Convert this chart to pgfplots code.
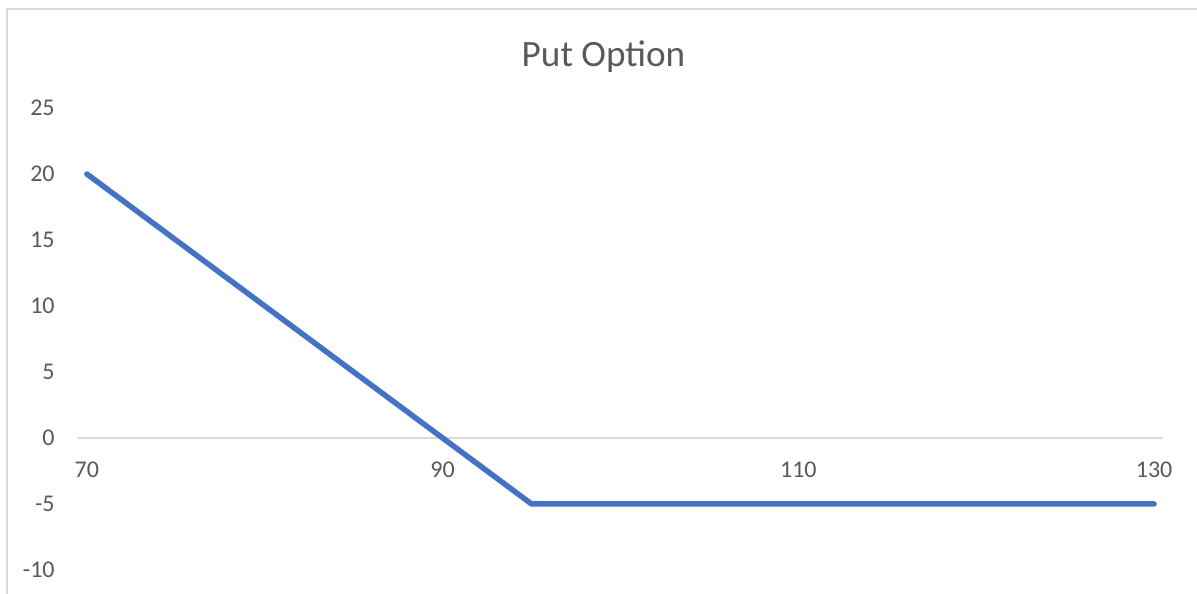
\documentclass[border=0pt]{standalone}
\usepackage{pgfplots}
\pgfplotsset{compat=1.18}
\usepackage{fontspec}
\setmainfont{Carlito}
\definecolor{excelblue}{HTML}{4472C4}
\definecolor{labelgray}{HTML}{595959}
\definecolor{linegray}{HTML}{D9D9D9}

\begin{document}
\begin{tikzpicture}
\path[use as bounding box] (0,0) rectangle (598.5bp,297bp);
% chart frame
\draw[linegray, line width=1.2bp] (3.5bp,-1bp) -- (3.5bp,292.5bp) -- (600bp,292.5bp);
% chart title
\node[anchor=base, inner sep=0pt, text=labelgray, font=\fontsize{18.6bp}{22bp}\selectfont]
  at (301.75bp,263.6bp) {Put Option};
\begin{axis}[
  at={(39bp,12bp)}, anchor=south west,
  scale only axis, width=542.5bp, height=231bp,
  xmin=69.5, xmax=130.5, ymin=-10, ymax=25,
  axis x line=middle, axis y line=left,
  x axis line style={-, draw=linegray, line width=0.9bp},
  y axis line style={draw=none},
  major tick length=0pt,
  xtick={70,90,110,130}, xticklabels={70,90,110,130},
  ytick={-10,-5,...,25}, yticklabels={-10,-5,0,5,10,15,20,25},
  hide obscured x ticks=false, hide obscured y ticks=false,
  ticklabel style={font=\fontsize{12bp}{14bp}\selectfont, text=labelgray, inner sep=0pt},
  xticklabel style={anchor=north, yshift=-12bp},
  yticklabel style={anchor=east, xshift=-11.5bp},
  clip=false,
]
\addplot[excelblue, line width=2.75bp, line cap=round, line join=round]
  coordinates {(70,20) (95,-5) (130,-5)};
\end{axis}
\end{tikzpicture}
\end{document}
